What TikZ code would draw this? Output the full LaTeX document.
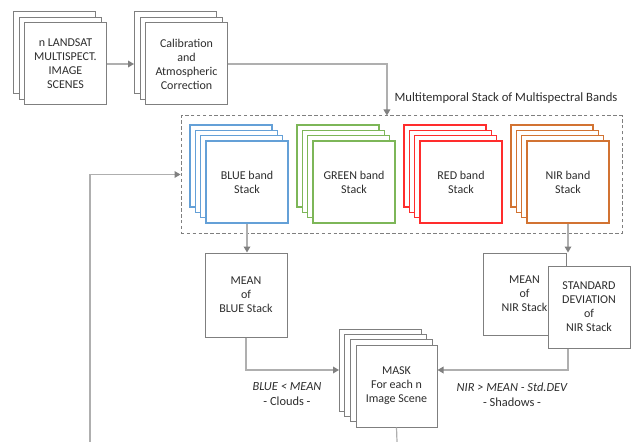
\documentclass[tikz,border=0pt]{standalone}
\usepackage{fontspec}
\setmainfont{Carlito}
\usetikzlibrary{arrows.meta,calc}

\definecolor{boxgray}{RGB}{127,127,127}
\definecolor{linegray}{RGB}{175,175,175}
\definecolor{tipgray}{RGB}{128,128,128}
\definecolor{textgray}{RGB}{45,45,45}
\definecolor{bandblue}{RGB}{100,160,215}
\definecolor{bandgreen}{RGB}{125,182,88}
\definecolor{bandred}{RGB}{255,45,45}
\definecolor{bandnir}{RGB}{210,115,50}

\tikzset{
	every node/.style={font=\fontsize{9}{10.5}\selectfont, text=textgray},
	sheet/.style={draw=boxgray, fill=white, line width=0.75pt, minimum width=61.5pt, minimum height=61.5pt, inner sep=0pt, align=center},
	bandsheet/.style={sheet, line width=0.8pt},
	dashbox/.style={draw=boxgray, dash pattern=on 2.6pt off 1.8pt, line width=0.75pt, minimum width=330.75pt, minimum height=87.75pt, inner sep=0pt},
	link/.style={draw=linegray, line width=0.9pt, -{Triangle[width=5pt,length=4.5pt,color=tipgray]}},
	plainlink/.style={draw=linegray, line width=0.9pt},
	rule/.style={align=center, font=\fontsize{9.3}{11.25}\selectfont}
}

\begin{document}
\begin{tikzpicture}[x=0.75pt,y=-0.75pt]
	\useasboundingbox (0,0) rectangle (631,442);

	% input scenes and calibration
	\foreach \k in {2,1}
		\node[sheet] (scenes\k) at ({65.5-5.5*\k},{64-5.5*\k}) {};
	\node[sheet] (scenes) at (65.5,64) {n LANDSAT\\MULTISPECT.\\IMAGE\\SCENES};
	\foreach \k in {2,1}
		\node[sheet] (calib\k) at ({186.5-5.5*\k},{64-5.5*\k}) {};
	\node[sheet] (calib) at (186.5,64) {Calibration\\and\\Atmospheric\\Correction};

	% multitemporal stack
	\node[dashbox] (multi) at (401.5,174.5) {};
	\node[anchor=south] (multilabel) at (506,108) {\fontsize{9.5}{11}\selectfont Multitemporal Stack of Multispectral Bands};
	\foreach \name/\col/\x/\txt in {blue/bandblue/247/BLUE,green/bandgreen/354/GREEN,red/bandred/461/RED,nir/bandnir/568/NIR}{
		\foreach \k in {3,2,1}
			\node[bandsheet,draw=\col] (\name\k) at ({\x-16*\k/3},{182-16*\k/3}) {};
		\node[bandsheet,draw=\col] (\name) at (\x,182) {\txt{} band\\Stack};
	}

	% statistics
	\node[sheet,minimum height=63pt] (bluemean) at (246,295) {MEAN\\of\\BLUE Stack};
	\node[sheet,minimum width=62.25pt] (nirmean) at (524.5,294) {MEAN\\of\\NIR Stack};
	\node[sheet] (nirstd) at (589,307) {STANDARD\\DEVIATION\\of\\NIR Stack};

	% mask
	\foreach \k in {3,2,1}
		\node[sheet] (mask\k) at ({396.5-16*\k/3},{386-16*\k/3}) {};
	\node[sheet,minimum width=60.75pt] (mask) at (396.5,386) {MASK\\For each n\\Image Scene};

	\node[rule] (cloudrule) at (287,394.5) {\itshape BLUE < MEAN\\- Clouds -};
	\node[rule] (shadowrule) at (512,394.5) {\itshape NIR > MEAN - Std.DEV\\- Shadows -};

	% connectors
	\coordinate (loopend) at (397,442);
	\coordinate (loopstart) at (90,442);
	\draw[link] (scenes.east) -- (scenes.east -| calib2.west);
	\draw[link] (calib.east) -| ($(multi.north west)!0.467!(multi.north east)$);
	\draw[link] (blue.south) -- (blue.south |- bluemean.north);
	\draw[link] (nir.south) -- (nir.south |- nirmean.north);
	\draw[link] (bluemean.south) |- (mask3.west);
	\draw[link] (nirstd.south -| nir.south) |- (mask.east |- mask3.west);
	\draw[plainlink] (mask.south) -- (loopend);
	\draw[link] (loopstart) |- (multi.west);

\end{tikzpicture}
\end{document}
